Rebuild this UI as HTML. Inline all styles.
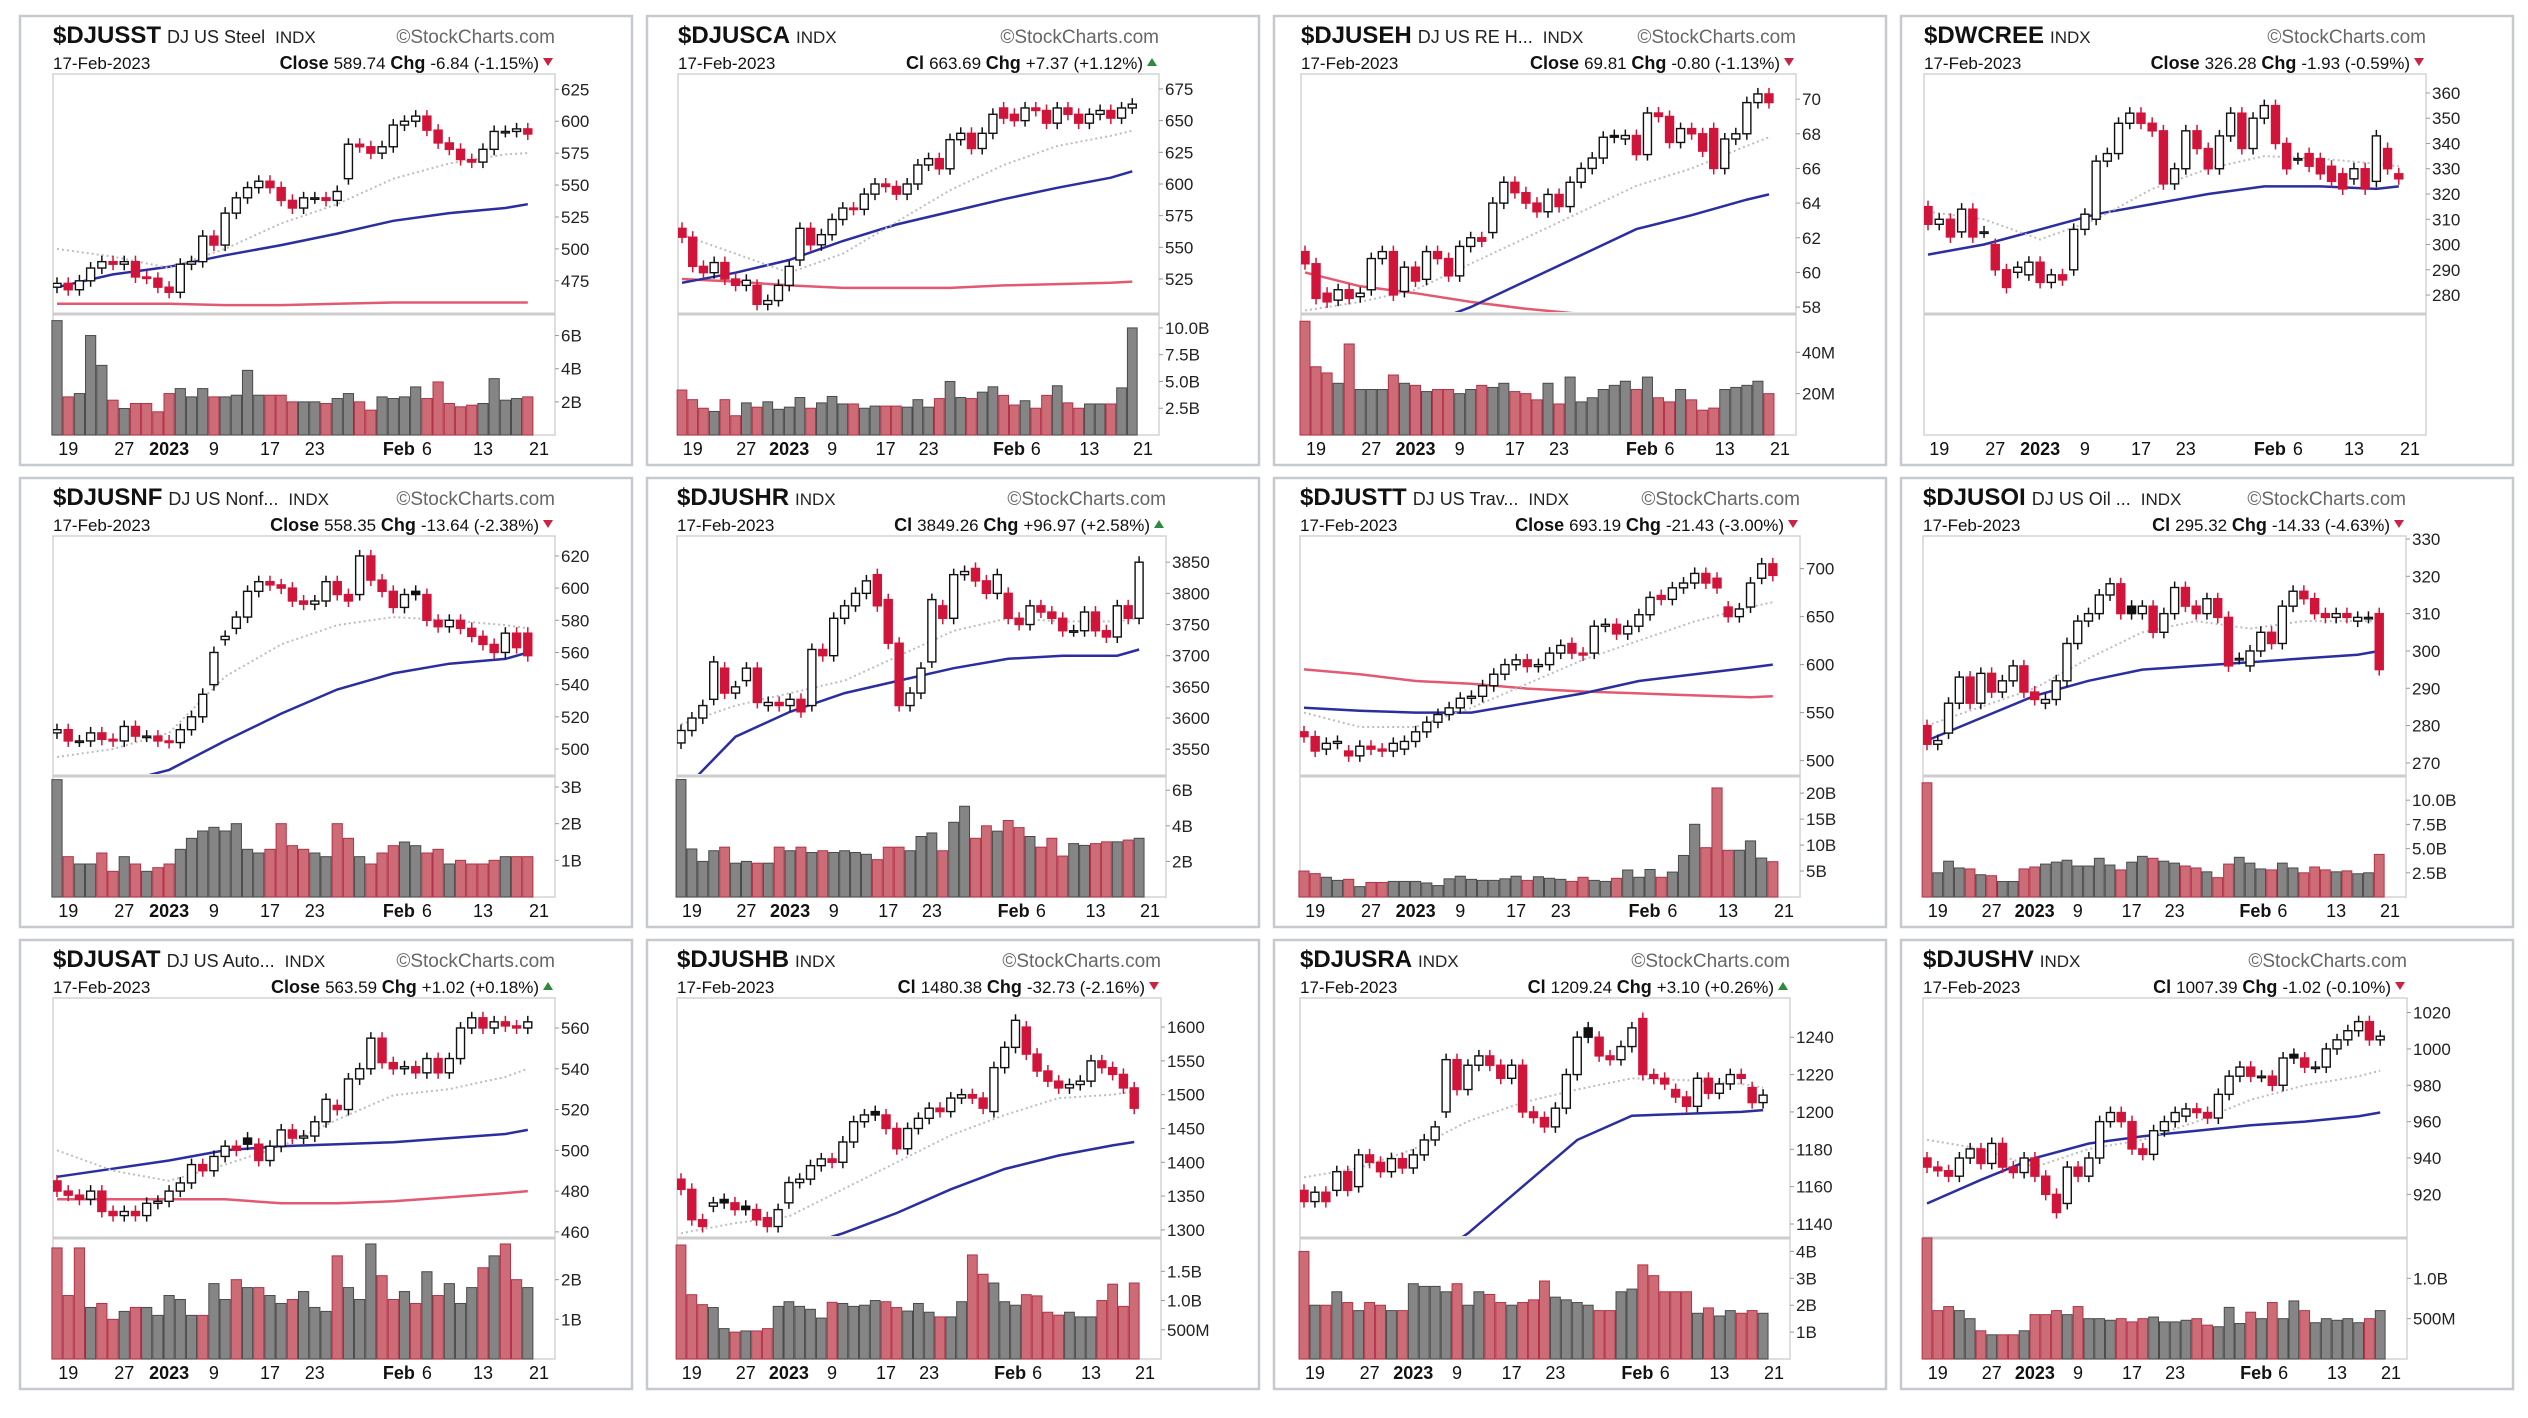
<!DOCTYPE html>
<html><head><meta charset="utf-8"><title>Sector charts</title>
<style>
html,body{margin:0;padding:0;background:#fff;}
svg{display:block;font-family:"Liberation Sans",Arial,sans-serif;}
</style></head>
<body>
<svg id="chart" width="2528" height="1418" viewBox="0 0 2528 1418"></svg>
<script>
// ---------- DATA ----------
const maIdx=[0,5,10,15,20,25,30,35,40,42];

const p1Close=[473,468,475,485,490,488,490,478,477,470,466,488,490,510,503,528,540,548,553,548,538,532,540,540,538,545,582,580,575,580,597,600,604,593,583,578,570,568,578,592,592,594,590];
const p1Open=[470,473,468,475,485,490,488,490,478,477,470,466,488,490,510,503,528,540,548,553,548,538,532,540,540,538,555,582,580,575,580,597,600,604,593,583,578,570,568,578,592,592,594];
const p1Vol=[6.9,2.3,2.5,6.0,4.2,2.1,1.6,1.9,1.9,1.4,2.5,2.8,2.3,2.8,2.3,2.3,2.4,3.9,2.4,2.4,2.4,2.0,2.0,2.0,1.9,2.2,2.5,2.0,1.5,2.3,2.2,2.3,2.9,2.2,3.2,1.9,1.7,1.8,1.9,3.4,2.1,2.2,2.3];
const p1Ma20=[500,494,485,500,520,535,555,567,574,575];
const p1Ma50=[470,480,486,495,503,512,522,528,532,535];
const p1Ma200=[457,457,457,456,456,457,458,458,458,458];
const p1Ticks=[475,500,525,550,575,600,625];
const p1VolTicks=[2,4,6];
const p1VolLabels=["2B","4B","6B"];

const p2Close=[558,535,530,538,525,520,524,505,508,520,535,565,552,560,572,581,580,592,600,598,592,600,615,620,612,635,640,628,640,655,652,650,660,658,648,660,655,648,655,658,652,660,663];
const p2Open=[565,558,535,530,538,525,520,520,505,508,520,540,565,552,560,572,581,580,592,600,598,592,600,615,620,612,635,640,628,640,660,655,650,660,658,648,660,655,648,655,658,652,660];
const p2Vol=[4.2,3.3,2.5,2.2,3.3,1.8,3.0,2.6,3.1,2.4,2.6,3.5,2.5,3.0,3.6,2.9,2.9,2.5,2.7,2.7,2.7,2.6,3.3,2.6,3.4,5.0,3.5,3.4,4.0,4.5,3.7,2.8,3.2,2.5,3.7,4.6,3.0,2.5,2.9,2.9,2.9,4.4,10.0];
const p2Ma20=[560,545,530,545,570,595,615,630,638,642];
const p2Ma50=[522,530,540,555,568,578,588,597,605,610];
const p2Ma200=[525,523,520,518,518,518,520,521,522,523];
const p2Ticks=[525,550,575,600,625,650,675];
const p2VolTicks=[2.5,5,7.5,10];
const p2VolLabels=["2.5B","5.0B","7.5B","10.0B"];

const p3Close=[60.5,58.5,58.3,59.0,58.5,58.8,60.8,61.2,58.7,60.3,59.5,61.2,60.8,59.8,61.5,62.0,61.8,64.0,65.2,64.6,64.0,63.5,64.5,63.8,65.2,66.0,66.6,67.8,67.8,67.9,66.8,69.2,69.0,67.5,68.3,68.0,67.0,66.0,67.7,68.0,69.8,70.3,69.8];
const p3Open=[61.2,60.5,58.8,58.4,59.0,58.6,59.0,60.8,61.2,58.9,60.3,59.6,61.2,60.8,59.8,61.5,62.0,62.3,64.0,65.2,64.6,64.0,63.5,64.5,63.8,65.2,66.0,66.6,67.9,67.7,67.9,66.8,69.2,69.0,67.5,68.3,68.0,68.3,66.0,67.7,68.0,69.8,70.3];
const p3Vol=[55,33,30,25,44,22,22,22,29,25,24,21,22,22,20,22,24,23,25,21,20,17,25,15,28,16,18,22,24,26,22,28,18,16,22,17,12,13,22,23,24,26,20];
const p3Ma20=[57.8,58.3,59.0,60.5,62.0,63.5,65.0,66.0,67.3,67.8];
const p3Ma50=[55.0,55.8,56.8,58.0,59.5,61.0,62.5,63.3,64.2,64.5];
const p3Ma200=[60.0,59.2,58.8,58.3,57.9,57.6,57.3,57.0,56.8,56.7];
const p3Ticks=[58,60,62,64,66,68,70];
const p3VolTicks=[20,40];
const p3VolLabels=["20M","40M"];

const p4Close=[308,310,303,314,303,305,290,283,291,293,285,288,286,306,312,333,336,348,352,348,345,324,330,345,338,330,343,352,338,350,355,340,330,334,331,328,325,322,330,322,343,330,326];
const p4Open=[315,308,310,305,314,305,300,290,289,288,293,285,288,290,306,310,333,336,348,352,348,345,324,330,345,338,330,343,352,338,350,355,340,334,336,334,331,328,326,330,325,338,328];
const p4Vol=[];
const p4Ma20=[313,310,302,310,322,330,335,334,332,331];
const p4Ma50=[296,300,306,312,316,320,323,323,322,323];
const p4Ma200=[];
const p4Ticks=[280,290,300,310,320,330,340,350,360];
const p4VolTicks=[];
const p4VolLabels=[];

const p5Close=[512,505,505,510,506,505,514,508,508,505,504,512,520,534,560,570,582,598,604,602,600,592,590,592,604,596,592,620,605,598,588,596,596,580,576,580,575,570,565,560,572,563,558];
const p5Open=[510,512,505,505,510,506,505,514,508,508,505,504,512,520,540,568,575,582,598,604,602,600,592,590,592,604,596,596,620,605,598,588,598,596,580,576,580,575,570,565,560,572,572];
const p5Vol=[3.2,1.1,0.9,0.9,1.2,0.7,1.1,0.9,0.7,0.8,0.9,1.3,1.6,1.8,1.9,1.8,2.0,1.3,1.2,1.3,2.0,1.4,1.3,1.2,1.1,2.0,1.6,1.1,0.9,1.2,1.4,1.5,1.4,1.2,1.3,0.9,1.0,0.9,0.9,1.0,1.1,1.1,1.1];
const p5Ma20=[495,500,510,545,565,577,582,580,577,575];
const p5Ma50=[470,478,487,505,522,537,547,553,556,560];
const p5Ma200=[];
const p5Ticks=[500,520,540,560,580,600,620];
const p5VolTicks=[1,2,3];
const p5VolLabels=["1B","2B","3B"];

const p6Close=[3580,3600,3620,3690,3640,3650,3680,3625,3625,3620,3630,3610,3710,3700,3760,3780,3800,3820,3780,3720,3620,3640,3680,3790,3760,3830,3835,3820,3800,3830,3760,3750,3780,3770,3760,3740,3740,3770,3740,3730,3780,3760,3850];
const p6Open=[3560,3580,3600,3630,3680,3640,3660,3680,3620,3625,3620,3630,3620,3710,3700,3760,3780,3800,3830,3790,3720,3620,3640,3690,3780,3760,3830,3840,3820,3800,3800,3760,3750,3780,3770,3760,3740,3740,3770,3740,3730,3780,3760];
const p6Vol=[6.6,2.7,2.0,2.6,2.8,1.9,2.0,1.9,1.9,2.8,2.6,2.8,2.5,2.6,2.5,2.6,2.5,2.4,2.1,2.8,2.8,2.6,3.4,3.6,2.6,4.2,5.1,3.3,4.0,3.7,4.3,3.9,3.4,2.8,3.3,2.3,3.0,2.9,3.0,3.1,3.1,3.2,3.3];
const p6Ma20=[3590,3620,3640,3660,3700,3740,3760,3755,3755,3760];
const p6Ma50=[3480,3570,3610,3640,3660,3680,3695,3700,3700,3710];
const p6Ma200=[];
const p6Ticks=[3550,3600,3650,3700,3750,3800,3850];
const p6VolTicks=[2,4,6];
const p6VolLabels=["2B","4B","6B"];

const p7Close=[525,510,518,520,505,515,512,510,518,520,530,540,548,555,565,567,578,590,600,605,598,600,612,620,612,610,640,642,632,640,652,670,668,680,685,695,685,680,650,658,685,705,693];
const p7Open=[530,525,512,518,510,505,515,512,510,512,520,530,540,548,555,565,567,578,590,600,605,598,600,612,622,612,612,640,642,632,640,652,672,668,680,685,695,690,660,650,660,690,705];
const p7Vol=[5.0,4.5,3.8,3.2,3.4,2.0,2.8,2.8,3.0,3.0,3.0,2.7,2.2,3.5,4.0,3.4,3.2,3.2,3.5,4.0,3.2,3.9,3.6,3.4,3.0,3.8,3.2,3.0,3.6,5.2,3.8,5.3,3.8,4.8,8.0,14.0,9.5,21.0,9.0,9.0,10.8,7.5,6.8];
const p7Ma20=[550,535,535,555,580,605,625,645,660,665];
const p7Ma50=[555,552,550,550,560,570,583,590,597,600];
const p7Ma200=[595,590,583,580,575,572,570,568,566,567];
const p7Ticks=[500,550,600,650,700];
const p7VolTicks=[5,10,15,20];
const p7VolLabels=["5B","10B","15B","20B"];

const p8Close=[275,276,286,293,286,294,289,292,296,289,287,287,292,302,308,310,315,318,310,310,312,305,310,317,312,310,314,309,296,298,300,305,302,312,316,314,310,309,310,309,309,309,295];
const p8Open=[280,275,278,286,293,286,294,289,292,296,289,286,287,292,302,308,310,315,318,312,310,312,305,310,317,312,310,314,309,298,296,300,305,302,312,316,314,310,309,310,308,309,310];
const p8Vol=[11.8,2.5,3.7,3.0,2.9,2.3,2.2,1.6,1.6,2.9,3.1,3.4,3.6,3.8,3.2,3.2,4.0,3.3,2.8,3.6,4.2,4.0,3.7,3.5,3.2,3.0,2.6,2.0,3.4,4.1,3.5,2.9,2.8,3.5,3.0,2.5,3.1,2.8,2.6,2.7,2.4,2.5,4.4];
const p8Ma20=[280,285,290,298,305,308,306,308,308,308];
const p8Ma50=[276,282,288,292,295,296,297,298,299,300];
const p8Ma200=[];
const p8Ticks=[270,280,290,300,310,320,330];
const p8VolTicks=[2.5,5,7.5,10];
const p8VolLabels=["2.5B","5.0B","7.5B","10.0B"];

const p9Close=[480,478,476,480,470,468,470,468,474,475,480,484,493,490,497,502,500,503,495,502,510,506,507,514,525,520,535,540,555,543,540,541,538,545,538,545,560,565,560,563,561,560,563];
const p9Open=[485,480,478,476,480,470,468,470,468,474,475,480,484,493,490,497,502,506,503,495,502,510,506,507,514,522,520,535,540,555,543,540,541,538,545,538,545,560,565,560,563,561,560];
const p9Vol=[2.8,1.6,2.8,1.3,1.4,1.0,1.2,1.3,1.3,1.1,1.6,1.5,1.1,1.1,1.9,1.5,2.0,1.8,1.8,1.6,1.4,1.5,1.7,1.3,1.2,2.6,1.8,1.5,2.9,2.1,1.5,1.7,1.4,2.2,1.6,1.9,1.4,1.8,2.3,2.6,2.9,2.0,1.8];
const p9Ma20=[500,490,485,493,502,515,527,530,536,540];
const p9Ma50=[487,491,495,500,502,503,504,506,508,510];
const p9Ma200=[476,476,476,476,474,474,475,477,479,480];
const p9Ticks=[460,480,500,520,540,560];
const p9VolTicks=[1,2];
const p9VolLabels=["1B","2B"];

const p10Close=[1360,1315,1305,1340,1340,1330,1330,1315,1305,1330,1370,1375,1395,1405,1400,1430,1460,1470,1470,1450,1420,1450,1465,1480,1475,1495,1500,1495,1480,1540,1570,1610,1560,1535,1520,1510,1515,1520,1550,1540,1530,1510,1480];
const p10Open=[1375,1360,1315,1335,1345,1340,1335,1330,1318,1305,1340,1370,1375,1395,1405,1400,1430,1460,1475,1470,1450,1420,1450,1465,1480,1475,1495,1500,1495,1475,1540,1570,1600,1560,1535,1520,1510,1515,1520,1550,1540,1530,1510];
const p10Vol=[1.95,1.1,0.93,0.88,0.52,0.46,0.48,0.48,0.52,0.9,0.98,0.9,0.85,0.7,0.97,0.95,0.9,0.92,1.0,0.98,0.88,0.82,0.95,0.8,0.72,0.72,0.98,1.78,1.45,1.3,0.98,0.92,1.1,1.08,0.8,0.75,0.8,0.72,0.72,1.0,1.28,0.9,1.3];
const p10Ma20=[1295,1310,1320,1360,1400,1440,1470,1495,1500,1505];
const p10Ma50=[1230,1250,1270,1295,1325,1360,1390,1410,1425,1430];
const p10Ma200=[];
const p10Ticks=[1300,1350,1400,1450,1500,1550,1600];
const p10VolTicks=[0.5,1.0,1.5];
const p10VolLabels=["500M","1.0B","1.5B"];

const p11Close=[1152,1157,1152,1168,1158,1177,1173,1168,1175,1170,1177,1185,1192,1228,1212,1225,1230,1225,1218,1225,1200,1197,1192,1202,1220,1240,1240,1230,1228,1235,1245,1220,1218,1215,1208,1203,1218,1210,1215,1220,1218,1205,1209];
const p11Open=[1158,1152,1157,1158,1168,1160,1177,1173,1168,1175,1170,1177,1185,1200,1228,1212,1225,1230,1225,1218,1225,1200,1197,1192,1202,1220,1245,1240,1230,1228,1235,1250,1220,1218,1212,1208,1203,1218,1210,1215,1220,1213,1205];
const p11Vol=[4.0,2.0,2.0,2.5,2.1,1.8,2.1,2.0,1.8,1.8,2.8,2.7,2.7,2.5,2.8,2.0,2.5,2.4,2.1,2.0,2.1,2.2,2.9,2.3,2.2,2.1,2.0,1.8,1.8,2.5,2.6,3.5,3.1,2.5,2.5,2.5,1.7,1.9,1.6,1.8,1.7,1.8,1.7];
const p11Ma20=[1165,1170,1180,1195,1205,1212,1218,1217,1215,1213];
const p11Ma50=[1080,1100,1115,1135,1160,1185,1198,1199,1200,1201];
const p11Ma200=[];
const p11Ticks=[1140,1160,1180,1200,1220,1240];
const p11VolTicks=[1,2,3,4];
const p11VolLabels=["1B","2B","3B","4B"];

const p12Close=[935,933,930,940,945,937,948,935,932,940,930,920,910,935,930,940,960,965,960,945,942,955,960,965,967,965,962,975,985,990,985,985,980,995,995,990,990,1000,1005,1010,1015,1005,1007];
const p12Open=[940,935,933,930,940,945,937,948,935,932,940,930,920,915,935,930,940,960,965,960,945,942,955,960,963,967,965,962,975,985,990,985,985,980,997,995,990,990,1000,1005,1010,1015,1005];
const p12Vol=[1.5,0.6,0.65,0.6,0.5,0.35,0.3,0.3,0.3,0.35,0.55,0.55,0.6,0.55,0.65,0.5,0.5,0.48,0.5,0.46,0.5,0.52,0.46,0.46,0.48,0.5,0.42,0.4,0.64,0.44,0.58,0.5,0.7,0.5,0.72,0.6,0.45,0.5,0.48,0.5,0.45,0.5,0.6];
const p12Ma20=[950,945,935,945,950,960,972,980,985,988];
const p12Ma50=[915,928,940,948,952,955,958,960,963,965];
const p12Ma200=[];
const p12Ticks=[920,940,960,980,1000,1020];
const p12VolTicks=[0.5,1.0];
const p12VolLabels=["500M","1.0B"];

const xLabelIdx=[1,6,10,14,19,23,30.5,33,38,43];
const xLabels=["19","27","2023","9","17","23","Feb","6","13","21"];
const xLabelBold=[false,false,true,false,false,false,true,false,false,false];

// ---------- LAYOUT ----------
const colLeft=[19,646,1273,1900], rowTop=[15,477,939];
const PW=614, PH=451, PT=59, PB=299, VB=420;
const panels=[
 {sym:"$DJUSST",desc:"DJ US Steel",cl:"Close",clv:"589.74",chg:"-6.84 (-1.15%)",up:false,o:p1Open,c:p1Close,v:p1Vol,m20:p1Ma20,m50:p1Ma50,m200:p1Ma200,t:p1Ticks,vt:p1VolTicks,vl:p1VolLabels,ymin:449,ymax:637,vmax:7.3,L:34,R:536},
 {sym:"$DJUSCA",desc:"",cl:"Cl",clv:"663.69",chg:"+7.37 (+1.12%)",up:true,o:p2Open,c:p2Close,v:p2Vol,m20:p2Ma20,m50:p2Ma50,m200:p2Ma200,t:p2Ticks,vt:p2VolTicks,vl:p2VolLabels,ymin:497.4,ymax:686.8,vmax:11.3,L:32,R:513},
 {sym:"$DJUSEH",desc:"DJ US RE H...",cl:"Close",clv:"69.81",chg:"-0.80 (-1.13%)",up:false,o:p3Open,c:p3Close,v:p3Vol,m20:p3Ma20,m50:p3Ma50,m200:p3Ma200,t:p3Ticks,vt:p3VolTicks,vl:p3VolLabels,ymin:57.6,ymax:71.45,vmax:58.5,L:28,R:523},
 {sym:"$DWCREE",desc:"",cl:"Close",clv:"326.28",chg:"-1.93 (-0.59%)",up:false,o:p4Open,c:p4Close,v:p4Vol,m20:p4Ma20,m50:p4Ma50,m200:p4Ma200,t:p4Ticks,vt:p4VolTicks,vl:p4VolLabels,ymin:272.5,ymax:367.5,vmax:1,L:24,R:526},
 {sym:"$DJUSNF",desc:"DJ US Nonf...",cl:"Close",clv:"558.35",chg:"-13.64 (-2.38%)",up:false,o:p5Open,c:p5Close,v:p5Vol,m20:p5Ma20,m50:p5Ma50,m200:p5Ma200,t:p5Ticks,vt:p5VolTicks,vl:p5VolLabels,ymin:483.2,ymax:632.4,vmax:3.3,L:34,R:536},
 {sym:"$DJUSHR",desc:"",cl:"Cl",clv:"3849.26",chg:"+96.97 (+2.58%)",up:true,o:p6Open,c:p6Close,v:p6Vol,m20:p6Ma20,m50:p6Ma50,m200:p6Ma200,t:p6Ticks,vt:p6VolTicks,vl:p6VolLabels,ymin:3507,ymax:3892,vmax:6.8,L:31,R:520},
 {sym:"$DJUSTT",desc:"DJ US Trav...",cl:"Close",clv:"693.19",chg:"-21.43 (-3.00%)",up:false,o:p7Open,c:p7Close,v:p7Vol,m20:p7Ma20,m50:p7Ma50,m200:p7Ma200,t:p7Ticks,vt:p7VolTicks,vl:p7VolLabels,ymin:484,ymax:734,vmax:23.3,L:27,R:527},
 {sym:"$DJUSOI",desc:"DJ US Oil ...",cl:"Cl",clv:"295.32",chg:"-14.33 (-4.63%)",up:false,o:p8Open,c:p8Close,v:p8Vol,m20:p8Ma20,m50:p8Ma50,m200:p8Ma200,t:p8Ticks,vt:p8VolTicks,vl:p8VolLabels,ymin:266.5,ymax:330.8,vmax:12.5,L:23,R:506},
 {sym:"$DJUSAT",desc:"DJ US Auto...",cl:"Close",clv:"563.59",chg:"+1.02 (+0.18%)",up:true,o:p9Open,c:p9Close,v:p9Vol,m20:p9Ma20,m50:p9Ma50,m200:p9Ma200,t:p9Ticks,vt:p9VolTicks,vl:p9VolLabels,ymin:457,ymax:574.7,vmax:3.05,L:34,R:536},
 {sym:"$DJUSHB",desc:"",cl:"Cl",clv:"1480.38",chg:"-32.73 (-2.16%)",up:false,o:p10Open,c:p10Close,v:p10Vol,m20:p10Ma20,m50:p10Ma50,m200:p10Ma200,t:p10Ticks,vt:p10VolTicks,vl:p10VolLabels,ymin:1288,ymax:1643,vmax:2.07,L:31,R:515},
 {sym:"$DJUSRA",desc:"",cl:"Cl",clv:"1209.24",chg:"+3.10 (+0.26%)",up:true,o:p11Open,c:p11Close,v:p11Vol,m20:p11Ma20,m50:p11Ma50,m200:p11Ma200,t:p11Ticks,vt:p11VolTicks,vl:p11VolLabels,ymin:1132.5,ymax:1261,vmax:4.5,L:27,R:517},
 {sym:"$DJUSHV",desc:"",cl:"Cl",clv:"1007.39",chg:"-1.02 (-0.10%)",up:false,o:p12Open,c:p12Close,v:p12Vol,m20:p12Ma20,m50:p12Ma50,m200:p12Ma200,t:p12Ticks,vt:p12VolTicks,vl:p12VolLabels,ymin:896,ymax:1028,vmax:1.5,L:23,R:507}
];

const NS="http://www.w3.org/2000/svg";
const svg=document.getElementById('chart');
function mk(tag,attrs,parent){const e=document.createElementNS(NS,tag);for(const k in attrs)e.setAttribute(k,attrs[k]);parent.appendChild(e);return e;}
const RED="#d0143a", BLK="#111";

panels.forEach((p,pi)=>{
  const g=mk('g',{transform:`translate(${colLeft[pi%4]},${rowTop[Math.floor(pi/4)]})`},svg);
  
  
  const bg=mk('rect',{x:1,y:1,width:PW-2,height:PH-2,fill:'#fff',stroke:'#c6cacf','stroke-width':2.5},g);
  
  
  const L=p.L,R=p.R;
  const slot=(R-L-20)/43;
  const xs=i=>L+4+i*slot;
  const ys=v=>PT+(p.ymax-v)/(p.ymax-p.ymin)*(PB-PT);
  const vs=v=>VB-v/p.vmax*(VB-PB);

  const t1=mk('text',{x:L,y:28,'font-size':24,'font-weight':'bold',fill:'#111'},g);
  t1.textContent=p.sym;
  
  
  let nx=L+t1.getComputedTextLength()+6;
  if(p.desc){
    const d=mk('text',{x:nx,y:28,'font-size':18,fill:'#222'},g);
    d.textContent=p.desc;
    
    
    nx+=d.getComputedTextLength()+10;
  }
  const ix=mk('text',{x:nx,y:28,'font-size':17,fill:'#222'},g);
  ix.textContent="INDX";
  
  
  const sc=mk('text',{x:R,y:28,'font-size':19,fill:'#666','text-anchor':'end'},g);
  sc.textContent="\u00A9StockCharts.com";
  
  
  const dt=mk('text',{x:L,y:54,'font-size':17,fill:'#111'},g);
  dt.textContent="17-Feb-2023";
  
  
  const cl=mk('text',{x:R-16,y:54,'font-size':17,fill:'#111','text-anchor':'end'},g);
  
  
  const a=mk('tspan',{'font-weight':'bold','font-size':18},cl);a.textContent=p.cl+" ";
  const b=mk('tspan',{},cl);b.textContent=p.clv+" ";
  const c=mk('tspan',{'font-weight':'bold','font-size':18},cl);c.textContent="Chg ";
  const d2=mk('tspan',{},cl);d2.textContent=p.chg;
  const tri=mk('path',{d:p.up?`M${R-12},51 L${R-2},51 L${R-7},43 Z`:`M${R-12},43 L${R-2},43 L${R-7},51 Z`,fill:p.up?'#2d8a3e':'#cc2244'},g);
  
  

  const fr=mk('rect',{x:L,y:PT,width:R-L,height:VB-PT,fill:'#fff',stroke:'#d4d4d4','stroke-width':1.5},g);
  
  
  const dv=mk('line',{x1:L,x2:R,y1:PB,y2:PB,stroke:'#cdcdcd','stroke-width':3},g);
  
  

  const cid='clip'+pi;
  const cp=mk('clipPath',{id:cid},g);
  mk('rect',{x:L,y:PT,width:R-L,height:PB-PT-2},cp);
  const pg=mk('g',{'clip-path':`url(#${cid})`},g);

  p.t.forEach(v=>{
    const y=ys(v);
    mk('line',{x1:R,x2:R+4,y1:y,y2:y,stroke:'#999','stroke-width':1},g);
    const tt=mk('text',{x:R+6,y:y+6,'font-size':17,fill:'#222'},g);
    tt.textContent=String(v);
    
    
  });

  const maLine=(arr,style,name)=>{
    if(!arr.length)return;
    const pts=arr.map((v,k)=>xs(maIdx[k]).toFixed(1)+','+ys(v).toFixed(1)).join(' ');
    const pl=mk('polyline',Object.assign({points:pts,fill:'none'},style),pg);
    
    
  };
  maLine(p.m200,{stroke:'#e25a72','stroke-width':2.5},'ma200-line');
  maLine(p.m50,{stroke:'#2b2e9e','stroke-width':2.5},'ma50-line');
  maLine(p.m20,{stroke:'#bdbdbd','stroke-width':2,'stroke-dasharray':'2,3'},'ma20-line');

  p.c.forEach((cv,i)=>{
    const ov=p.o[i];
    const prev=i>0?p.c[i-1]:ov;
    const col=cv<prev?RED:BLK;
    const x=xs(i);
    const yt=ys(Math.max(ov,cv)), yb=ys(Math.min(ov,cv));
    const wk=mk('line',{x1:x,x2:x,y1:yt-6,y2:yb+6,stroke:col,'stroke-width':1.5},pg);
    
    
    const h=Math.max(yb-yt,1.5);
    const body=mk('rect',{x:x-4,y:yt,width:8,height:h,fill:cv<ov?col:'#fff',stroke:col,'stroke-width':1.4},pg);
    
    
  });

  p.v.forEach((vv,i)=>{
    const prev=i>0?p.c[i-1]:p.o[i];
    const isRed=p.c[i]<prev;
    const y=vs(vv);
    const br=mk('rect',{x:xs(i)-slot/2+0.5,y:y,width:slot-1,height:VB-y,fill:isRed?'#cd6b76':'#858585',stroke:isRed?'#b23348':'#4a4a4a','stroke-width':1},g);
    
    
  });
  p.vt.forEach((v,k)=>{
    const y=vs(v);
    mk('line',{x1:R,x2:R+4,y1:y,y2:y,stroke:'#999','stroke-width':1},g);
    const tt=mk('text',{x:R+6,y:y+6,'font-size':17,fill:'#222'},g);
    tt.textContent=p.vl[k];
    
    
  });

  xLabelIdx.forEach((ix2,k)=>{
    const tt=mk('text',{x:xs(ix2),y:440,'font-size':18,'text-anchor':'middle',fill:'#111','font-weight':xLabelBold[k]?'bold':'normal'},g);
    tt.textContent=xLabels[k];
    
    
  });
});
</script>
</body></html>
